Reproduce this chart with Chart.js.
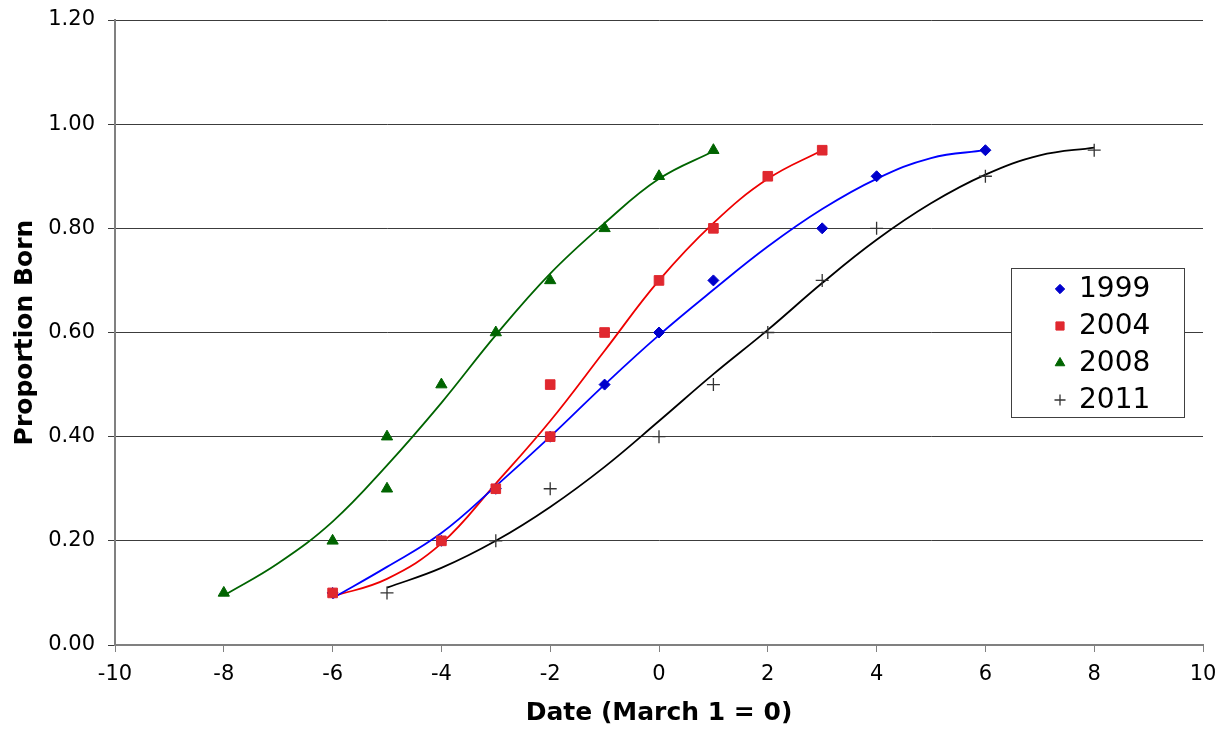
<!DOCTYPE html>
<html><head><meta charset="utf-8">
<script src="https://cdn.jsdelivr.net/npm/chart.js@4.4.0/dist/chart.umd.min.js"></script>
<style>html,body{margin:0;padding:0;background:#fff;}canvas{display:block;}</style>
</head><body>
<canvas id="c" width="1228" height="731"></canvas>
<script>
// ---- data ----
const seriesNames = ['1999', '2004', '2008', '2011'];
const x1999 = [-6, -4, -3, -2, -1, 0, 1, 3, 4, 6];
const y1999 = [0.10, 0.20, 0.30, 0.40, 0.50, 0.60, 0.70, 0.80, 0.90, 0.95];
const x2004 = [-6, -4, -3, -2, -2, -1, 0, 1, 2, 3];
const y2004 = [0.10, 0.20, 0.30, 0.40, 0.50, 0.60, 0.70, 0.80, 0.90, 0.95];
const x2008 = [-8, -6, -5, -5, -4, -3, -2, -1, 0, 1];
const y2008 = [0.10, 0.20, 0.30, 0.40, 0.50, 0.60, 0.70, 0.80, 0.90, 0.95];
const x2011 = [-5, -3, -2, 0, 1, 2, 3, 4, 6, 8];
const y2011 = [0.10, 0.20, 0.30, 0.40, 0.50, 0.60, 0.70, 0.80, 0.90, 0.95];
// trend curves
const cx1999 = [-6, -5, -4, -3, -2, -1, 0, 1, 2, 3, 4, 5, 6];
const cy1999 = [0.09, 0.15, 0.215, 0.305, 0.40, 0.50, 0.595, 0.682, 0.765, 0.837, 0.895, 0.935, 0.95];
const cx2004 = [-6, -5, -4, -3, -2, -1, 0, 1, 2, 3];
const cy2004 = [0.093, 0.127, 0.195, 0.31, 0.43, 0.565, 0.70, 0.81, 0.895, 0.95];
const cx2008 = [-8, -7, -6, -5, -4, -3, -2, -1, 0, 1];
const cy2008 = [0.095, 0.157, 0.237, 0.345, 0.465, 0.595, 0.713, 0.81, 0.895, 0.948];
const cx2011 = [-5, -4, -3, -2, -1, 0, 1, 2, 3, 4, 5, 6, 7, 8];
const cy2011 = [0.11, 0.148, 0.20, 0.265, 0.342, 0.43, 0.52, 0.605, 0.695, 0.778, 0.848, 0.903, 0.94, 0.955];
const xTicks = [-10, -8, -6, -4, -2, 0, 2, 4, 6, 8, 10];
const yTickLabels = ['0.00', '0.20', '0.40', '0.60', '0.80', '1.00', '1.20'];

const pts = (xs, ys) => xs.map((x, i) => ({ x: x, y: ys[i] }));

const markerStyles = [
  { pointStyle: 'rectRot', radius: 5.5, bg: '#0000CC', border: '#0000CC', bw: 1 },
  { pointStyle: 'rect', radius: 6.8, bg: '#E0282F', border: '#E0282F', bw: 1 },
  { pointStyle: 'triangle', radius: 6.5, bg: '#006400', border: '#006400', bw: 1 },
  { pointStyle: 'cross', radius: 6.5, bg: '#333333', border: '#333333', bw: 1.3 }
];
const lineColors = ['#0000FF', '#EE0000', '#006400', '#000000'];
const markerX = [x1999, x2004, x2008, x2011];
const markerY = [y1999, y2004, y2008, y2011];
const curveX = [cx1999, cx2004, cx2008, cx2011];
const curveY = [cy1999, cy2004, cy2008, cy2011];
const markerOrder = [2, 1, 3, 4];

const datasets = [];
seriesNames.forEach((n, i) => {
  const m = markerStyles[i];
  datasets.push({
    label: n, data: pts(markerX[i], markerY[i]), showLine: false,
    pointStyle: m.pointStyle, pointRadius: m.radius, pointHoverRadius: m.radius,
    pointBackgroundColor: m.bg, pointBorderColor: m.border, pointBorderWidth: m.bw,
    order: markerOrder[i]
  });
});
seriesNames.forEach((n, i) => {
  datasets.push({
    label: n + ' trend', data: pts(curveX[i], curveY[i]), showLine: true,
    borderColor: lineColors[i], borderWidth: 1.8, pointRadius: 0, pointHoverRadius: 0,
    tension: 0.4, fill: false, order: 10 + i
  });
});

const boxLegend = {
  id: 'boxLegend',
  afterDraw(chart) {
    const ctx = chart.ctx;
    ctx.save();
    ctx.fillStyle = '#ffffff';
    ctx.strokeStyle = '#404040';
    ctx.lineWidth = 1;
    ctx.fillRect(1011, 268, 173, 149);
    ctx.strokeRect(1011.5, 268.5, 173, 149);
    const rows = [289, 326, 363, 400];
    seriesNames.forEach((n, i) => {
      const m = markerStyles[i];
      ctx.fillStyle = m.bg; ctx.strokeStyle = m.border; ctx.lineWidth = m.bw;
      Chart.helpers.drawPoint(ctx, { pointStyle: m.pointStyle, radius: m.radius * 0.85, rotation: 0, borderWidth: m.bw }, 1060, rows[i]);
      ctx.fillStyle = '#000000';
      ctx.font = '28px "DejaVu Sans"';
      ctx.textBaseline = 'middle';
      ctx.textAlign = 'left';
      ctx.fillText(n, 1079, rows[i] + 1);
    });
    ctx.restore();
  }
};

new Chart(document.getElementById('c'), {
  type: 'scatter',
  data: { datasets: datasets },
  plugins: [boxLegend],
  options: {
    responsive: false, animation: false,
    layout: { padding: { top: 20, right: 25, left: 0, bottom: 0 } },
    plugins: { legend: { display: false }, tooltip: { enabled: false } },
    scales: {
      x: {
        type: 'linear', min: -10, max: 10,
        afterFit: s => { s.height = 86; },
        afterBuildTicks: s => { s.ticks = xTicks.map(v => ({ value: v })); },
        ticks: { color: '#000', font: { family: 'DejaVu Sans', size: 21 }, padding: 10, maxRotation: 0, autoSkip: false },
        grid: { drawOnChartArea: false, drawTicks: true, tickLength: 7, color: '#808080', lineWidth: 1 },
        border: { display: true, color: '#808080', width: 2 },
        title: { display: true, text: 'Date (March 1 = 0)', color: '#000', font: { family: 'DejaVu Sans', size: 25, weight: 'bold' }, padding: { top: 0, bottom: 3 } }
      },
      y: {
        type: 'linear', min: 0, max: 1.2,
        afterFit: s => { s.width = 115; s.paddingTop = 0; s.paddingBottom = 0; },
        ticks: { stepSize: 0.2, color: '#000', font: { family: 'DejaVu Sans', size: 21 }, padding: 13,
          callback: (v, i) => yTickLabels[i] },
        grid: { color: '#3c3c3c', lineWidth: 1, tickLength: 7, drawTicks: true },
        border: { display: true, color: '#808080', width: 2 },
        title: { display: true, text: 'Proportion Born', color: '#000', font: { family: 'DejaVu Sans', size: 25, weight: 'bold' }, padding: { top: 10, bottom: 0 } }
      }
    }
  }
});
</script>
</body></html>
